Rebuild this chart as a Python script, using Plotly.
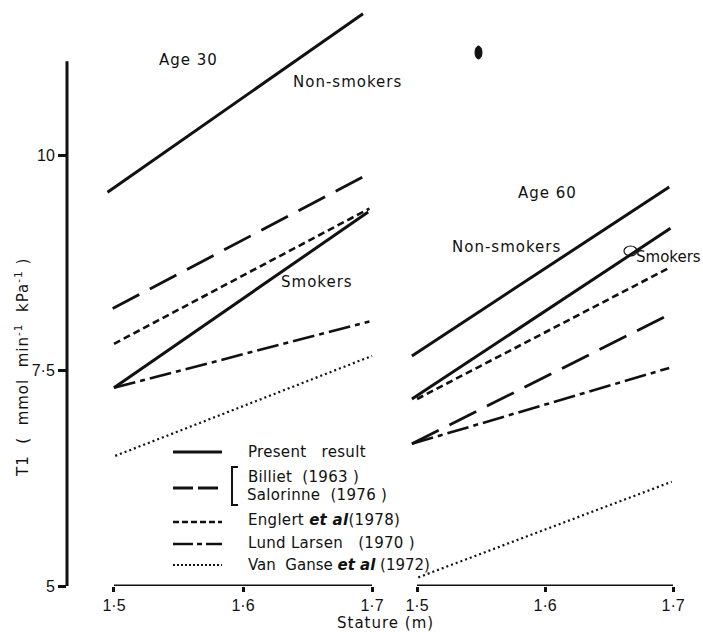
import plotly.graph_objects as go

W, H = 703, 632

# ---------------- data ----------------
# Age 30 panel
ns30_x = [1.495, 1.693]
ns30_y = [9.57, 11.64]          # non-smokers, present result
pr30_x = [1.5, 1.697]
pr30_y = [7.30, 9.34]           # smokers, present result
bi30_x = [1.499, 1.697]
bi30_y = [8.22, 9.78]           # Billiet / Salorinne
en30_x = [1.5, 1.698]
en30_y = [7.81, 9.38]           # Englert et al
ll30_x = [1.5, 1.698]
ll30_y = [7.30, 8.07]           # Lund Larsen
vg30_x = [1.501, 1.700]
vg30_y = [6.51, 7.67]           # Van Ganse et al

# Age 60 panel
ns60_x = [1.496, 1.697]
ns60_y = [7.67, 9.63]
pr60_x = [1.496, 1.698]
pr60_y = [7.17, 9.15]
en60_x = [1.500, 1.698]
en60_y = [7.17, 8.70]
bi60_x = [1.496, 1.697]
bi60_y = [6.65, 8.15]
ll60_x = [1.496, 1.697]
ll60_y = [6.65, 7.53]
vg60_x = [1.501, 1.699]
vg60_y = [5.10, 6.21]

x_tickvals = [1.5, 1.6, 1.7]
x_ticktext = ["1·5", "1·6", "1·7"]
y_tickvals = [5, 7.5, 10]
y_ticktext = ["5", "7·5", "10"]

FONT = "DejaVu Sans"
TICKFONT = "Liberation Sans"
INK = "#111111"

STY = {
    "solid": dict(width=3.0, dash="solid"),
    "long": dict(width=2.8, dash="30px,12px"),
    "short": dict(width=2.6, dash="7px,4px"),
    "dashdot": dict(width=2.6, dash="22px,5px,5px,5px"),
    "dot": dict(width=2.2, dash="2px,3px"),
}

fig = go.Figure()

def add(x, y, style, xa):
    fig.add_trace(go.Scatter(x=x, y=y, mode="lines", xaxis=xa, yaxis="y",
                             line=dict(color=INK, **STY[style]),
                             hoverinfo="skip", showlegend=False))

add(ns30_x, ns30_y, "solid", "x")
add(pr30_x, pr30_y, "solid", "x")
add(bi30_x, bi30_y, "long", "x")
add(en30_x, en30_y, "short", "x")
add(ll30_x, ll30_y, "dashdot", "x")
add(vg30_x, vg30_y, "dot", "x")

add(ns60_x, ns60_y, "solid", "x2")
add(pr60_x, pr60_y, "solid", "x2")
add(en60_x, en60_y, "short", "x2")
add(bi60_x, bi60_y, "long", "x2")
add(ll60_x, ll60_y, "dashdot", "x2")
add(vg60_x, vg60_y, "dot", "x2")

def px(x):
    return x / W

def py(y):
    return 1 - y / H

axis_common = dict(tickvals=x_tickvals, ticktext=x_ticktext, ticks="outside",
                   ticklen=5, tickwidth=2.5, tickcolor=INK, showgrid=False,
                   zeroline=False, showline=False, anchor="y", automargin=False,
                   tickfont=dict(family=TICKFONT, size=16, color=INK))

fig.update_layout(
    width=W, height=H,
    margin=dict(l=0, r=0, t=0, b=0, pad=0, autoexpand=False),
    plot_bgcolor="white", paper_bgcolor="white", showlegend=False,
    xaxis=dict(domain=[px(67), px(395)], range=[1.4636, 1.7178], **axis_common),
    xaxis2=dict(domain=[px(400), 1], range=[1.4867, 1.7234], **axis_common),
    yaxis=dict(domain=[46 / H, 1], range=[5, 11.80], tickvals=y_tickvals,
               ticktext=y_ticktext, ticks="outside", ticklen=8, tickwidth=2.5,
               tickcolor=INK, showgrid=False, zeroline=False, showline=False,
               anchor="x", automargin=False,
               tickfont=dict(family=TICKFONT, size=16, color=INK)),
)

shapes = []
# axis lines
shapes.append(dict(type="line", xref="paper", yref="y", x0=px(67), x1=px(67),
                   y0=5, y1=11.09, line=dict(color=INK, width=3)))
shapes.append(dict(type="line", xref="x", yref="y", x0=1.5, x1=1.7, y0=5, y1=5,
                   line=dict(color=INK, width=3)))
shapes.append(dict(type="line", xref="x2", yref="y", x0=1.5, x1=1.7, y0=5, y1=5,
                   line=dict(color=INK, width=3)))

# legend samples
leg = [(452, "solid"), (488, "long"), (522, "short"), (544, "dashdot"), (565, "dot")]
leg_dash = {"solid": "solid", "long": "20px,5px", "short": "6px,3px",
            "dashdot": "20px,4px,5px,4px", "dot": "2px,2px"}
for yy, s in leg:
    shapes.append(dict(type="line", xref="paper", yref="paper", x0=px(173), x1=px(222),
                       y0=py(yy), y1=py(yy),
                       line=dict(color=INK, width=STY[s]["width"], dash=leg_dash[s])))
# bracket
shapes.append(dict(type="path", xref="paper", yref="paper",
                   path=f"M {px(238)} {py(467)} L {px(232)} {py(467)} L {px(232)} {py(505)} L {px(238)} {py(505)}",
                   line=dict(color=INK, width=2)))
# small circle near Smokers (right) and ink blob
shapes.append(dict(type="circle", xref="paper", yref="paper", x0=px(624), x1=px(637),
                   y0=py(256), y1=py(246), line=dict(color=INK, width=1.2)))
shapes.append(dict(type="circle", xref="paper", yref="paper", x0=px(475), x1=px(482),
                   y0=py(59), y1=py(46), fillcolor=INK, line=dict(color=INK, width=1)))
fig.update_layout(shapes=shapes)

def ann(text, x, y, size=15, xanchor="center", angle=0, ls=1):
    fig.add_annotation(text=f'<span style="letter-spacing:{ls}px">{text}</span>',
                       x=px(x), y=py(y), xref="paper", yref="paper",
                       showarrow=False, xanchor=xanchor, yanchor="middle",
                       textangle=angle,
                       font=dict(family=FONT, size=size, color=INK))

ann("Age 30", 188, 60)
ann("Non-smokers", 347, 82)
ann("Smokers", 317, 282)
ann("Age 60", 547, 193)
ann("Non-smokers", 507, 247)
ann("Smokers", 634, 257, xanchor="left", ls=0)

ann("Present   result", 246, 452, size=15, xanchor="left", ls=0.3)
ann("Billiet  (1963 )", 246, 477, size=15, xanchor="left", ls=0.3)
ann("Salorinne  (1976 )", 245, 495, size=15, xanchor="left", ls=0.3)
ann("Englert <b><i>et al</i></b>(1978)", 246, 520, size=15, xanchor="left", ls=0.3)
ann("Lund Larsen   (1970 )", 246, 543, size=15, xanchor="left", ls=0.3)
ann("Van  Ganse <b><i>et al</i></b> (1972)", 246, 565, size=15, xanchor="left", ls=0)

ann("Stature (m)", 385, 623)
ann("T1  (  mmol  min<sup>-1</sup>  kPa<sup>-1</sup> )", 22, 368, angle=-90, ls=1)

fig.write_html("out.html")
